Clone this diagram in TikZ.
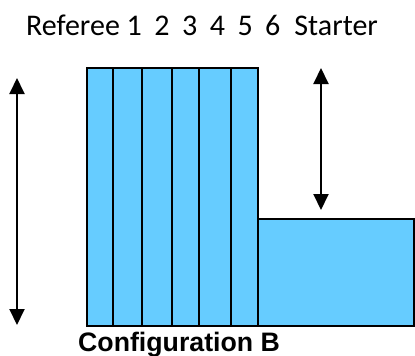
\documentclass[tikz,border=0pt]{standalone}
\usepackage{fontspec}
\setmainfont{Carlito}
\newfontfamily\arialfont{Liberation Sans}
\usetikzlibrary{arrows.meta}
\definecolor{boxblue}{HTML}{66CCFF}
\begin{document}
\begin{tikzpicture}[x=1bp,y=-1bp,
  lane/.style={draw=black,line width=2bp,fill=boxblue},
  dbl/.style={line width=2bp,{Triangle[length=16bp,width=15bp]}-{Triangle[length=16bp,width=15bp]}}]
\useasboundingbox (0,0) rectangle (415,356);
% lanes
\draw[lane] (87,68) rectangle (258,326);
\draw[lane] (258,219) rectangle (414,326);
\foreach \xx in {113,142,172,199,231}
  \draw[line width=2bp] (\xx,68) -- (\xx,326);
% arrows
\coordinate (at1) at (17,78);
\coordinate (ab1) at (17,325);
\draw[dbl] (at1) -- (ab1);
\coordinate (at2) at (321,68);
\coordinate (ab2) at (321,210);
\draw[dbl] (at2) -- (ab2);
% labels
\node[anchor=base west,inner sep=0pt,font=\fontsize{30bp}{34bp}\selectfont] (top) at (26,35)
  {Referee 1\hspace{12.5bp}2\hspace{12.5bp}3\hspace{12.5bp}4\hspace{12.5bp}5\hspace{12.5bp}6\hspace{14bp}Starter};
\node[anchor=base west,inner sep=0pt,font=\arialfont\bfseries\fontsize{26.7bp}{30bp}\selectfont] (cap) at (78,351) {Configuration B};
\end{tikzpicture}
\end{document}
